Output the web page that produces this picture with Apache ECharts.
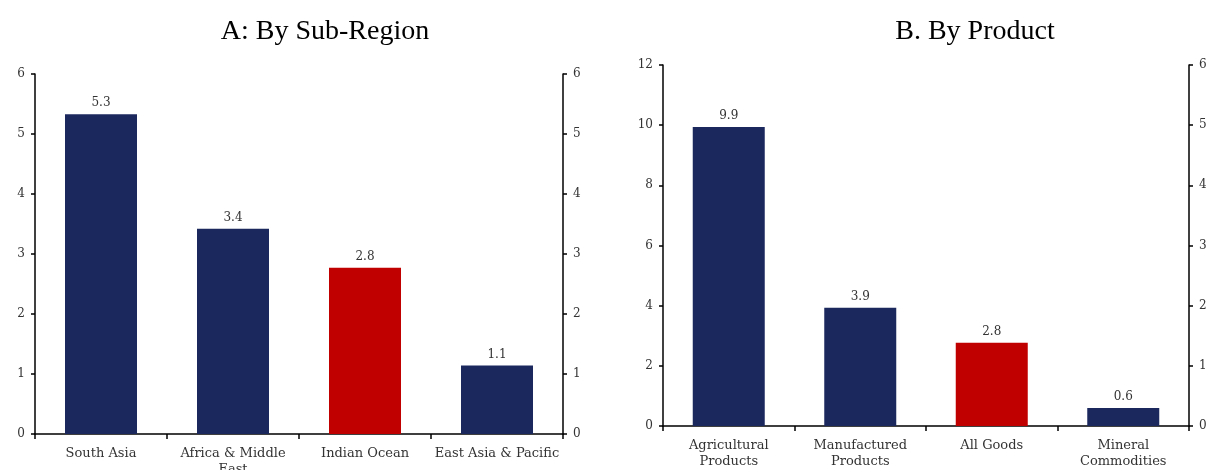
<!DOCTYPE html>
<html><head><meta charset="utf-8">
<script src="https://cdn.jsdelivr.net/npm/echarts@6/dist/echarts.min.js"></script>
<style>html,body{margin:0;padding:0;background:#fff}#c{width:1206px;height:470px}</style>
</head><body><div id="c"></div>
<script>
const regionCats = ['South Asia', 'Africa & Middle\nEast', 'Indian Ocean', 'East Asia & Pacific'];
const regionVals = [5.33, 3.42, 2.77, 1.14];
const productCats = ['Agricultural\nProducts', 'Manufactured\nProducts', 'All Goods', 'Mineral\nCommodities'];
const productVals = [9.94, 3.93, 2.77, 0.6];
const highlightA = 'Indian Ocean';
const highlightB = 'All Goods';
const titleA = 'A: By Sub-Region';
const titleB = 'B. By Product';

const NAVY = '#1b285e', RED = '#c00000';
const FONT = 'DejaVu Serif';
const chart = echarts.init(document.getElementById('c'));
const axisLine = {show: true, lineStyle: {color: '#000', width: 1.5}};
const lbl = {color: '#333', fontFamily: FONT, fontSize: 13};
function yAx(grid, max, interval, pos) {
  return {type: 'value', gridIndex: grid, min: 0, max: max, interval: interval, position: pos,
    axisLine: axisLine, axisTick: {show: true, length: 4, lineStyle: {color: '#000', width: 1.5}},
    axisLabel: Object.assign({margin: 10}, lbl, {fontSize: 12}), splitLine: {show: false}};
}
function xAx(grid, cats) {
  return {type: 'category', gridIndex: grid, data: cats,
    axisLine: axisLine, axisTick: {show: true, length: 5, alignWithLabel: false, lineStyle: {color: '#000', width: 1.5}},
    axisLabel: Object.assign({margin: 12, lineHeight: 16, interval: 0}, lbl)};
}
function bars(xi, yi, vals, cats, hl) {
  return {type: 'bar', xAxisIndex: xi, yAxisIndex: yi, barWidth: 72,
    data: vals.map((v, i) => ({value: v, itemStyle: {color: cats[i] === hl ? RED : NAVY}})),
    label: {show: true, position: 'top', distance: 5, formatter: p => p.value.toFixed(1), color: '#333', fontFamily: FONT, fontSize: 12}};
}
chart.setOption({
  animation: false,
  title: [
    {text: titleA, left: 320, top: 13, textAlign: 'center', textStyle: {fontFamily: 'Liberation Serif', fontWeight: 'normal', fontSize: 28, color: '#000'}},
    {text: titleB, left: 970, top: 13, textAlign: 'center', textStyle: {fontFamily: 'Liberation Serif', fontWeight: 'normal', fontSize: 28, color: '#000'}}
  ],
  grid: [
    {left: 35, right: 643, top: 74, bottom: 36, containLabel: false, outerBoundsMode: 'none'},
    {left: 663, right: 17, top: 65, bottom: 44, containLabel: false, outerBoundsMode: 'none'}
  ],
  xAxis: [xAx(0, regionCats), xAx(1, productCats)],
  yAxis: [yAx(0, 6, 1, 'left'), yAx(0, 6, 1, 'right'), yAx(1, 12, 2, 'left'), yAx(1, 6, 1, 'right')],
  series: [bars(0, 0, regionVals, regionCats, highlightA), bars(1, 2, productVals, productCats, highlightB)]
});
</script></body></html>
